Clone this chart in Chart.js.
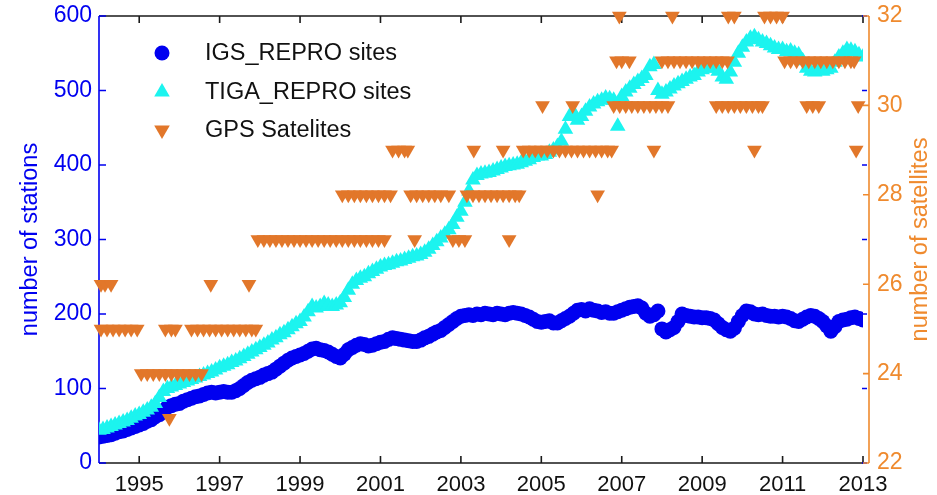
<!DOCTYPE html>
<html>
<head>
<meta charset="utf-8">
<script src="https://cdn.jsdelivr.net/npm/chart.js@4.4.0/dist/chart.umd.min.js"></script>
<style>
  html, body { margin: 0; padding: 0; background: #fff; }
  #wrap { width: 937px; height: 495px; position: relative; }
</style>
</head>
<body>
<div id="wrap"><canvas id="stations"></canvas></div>
<script>
// tick labels
const xTicks = [1995, 1997, 1999, 2001, 2003, 2005, 2007, 2009, 2011, 2013];
const stationTicks = [0, 100, 200, 300, 400, 500, 600];
const satTicks = [22, 24, 26, 28, 30, 32];

// station counts, sampled every 0.1 yr from 1994.0
const sampleStart = 1994.0;
const sampleStep = 0.1;
const igsSites = [
  35, 36, 37, 38, 40, 42, 43, 45, 47, 49,
  51, 53, 56, 58, 62, 65, 70, 75, 77, 79,
  80, 83, 85, 87, 89, 90, 92, 94, 95, 94,
  95, 96, 95, 95, 97, 100, 104, 108, 111, 113,
  115, 118, 120, 122, 126, 130, 134, 138, 141, 143,
  145, 147, 150, 153, 154, 152, 151, 149, 146, 143,
  141, 146, 152, 155, 158, 160, 159, 157, 158, 160,
  162, 163, 166, 168, 167, 166, 165, 164, 163, 163,
  165, 168, 170, 173, 176, 178, 182, 186, 190, 194,
  197, 198, 199, 198, 200, 199, 201, 200, 199, 201,
  200, 199, 201, 202, 201, 200, 198, 196, 193, 190,
  189, 190, 191, 188, 188, 191, 194, 197, 201, 205,
  206, 204, 207, 205, 204, 202, 203, 201, 201, 203,
  205, 207, 209, 210, 211, 208, 201, 197, 199, 204,
  180, 176, 179, 182, 190, 200, 198, 197, 196, 196,
  195, 195, 194, 192, 187, 182, 179, 177, 181, 190,
  198, 204, 203, 200, 199, 200, 198, 197, 197, 196,
  197, 196, 194, 191, 190, 193, 196, 198, 197, 194,
  190, 184, 177, 183, 190, 192, 193, 195, 196, 194,
  192
];
const tigaSites = [
  44, 45, 47, 49, 51, 53, 55, 57, 60, 63,
  65, 68, 71, 75, 80, 88, 96, 100, 102, 104,
  106, 108, 110, 112, 114, 116, 118, 120, 122, 125,
  128, 130, 132, 135, 137, 140, 143, 146, 149, 152,
  155, 158, 161, 165, 168, 172, 175, 179, 183, 187,
  190, 196, 203, 210, 208, 210, 214, 212, 210, 212,
  215, 222, 232, 240, 245, 248, 250, 254, 257, 260,
  263, 265, 266, 268, 270, 271, 273, 275, 277, 278,
  280, 283, 287, 292, 297, 302, 307, 313, 320, 330,
  338, 350, 365, 380, 386, 388, 389, 390, 392, 394,
  396, 398, 399, 400, 401, 403, 405, 407, 410, 412,
  412, 414, 417, 420, 425, 432, 448, 465, 470, 460,
  465, 472, 478, 482, 485, 487, 490, 489, 487, 452,
  492, 498, 503, 508, 512, 516, 520, 532, 535, 500,
  495, 498, 502, 506, 509, 512, 515, 518, 520, 525,
  528, 530, 531, 530, 526, 518, 515, 525, 538, 550,
  558, 565, 570, 572, 568, 565, 563, 560, 557, 555,
  555, 552, 553, 550, 548, 540, 530, 526, 525, 527,
  526, 528, 530, 538, 545, 550, 555, 554, 552, 548,
  545
];

// epochs (decimal year) at which each number of GPS satellites was seen
const sat23 = [1995.75];
const sat24 = [1995.05, 1995.2, 1995.35, 1995.5, 1995.65, 1995.8, 1995.95, 1996.1, 1996.25, 1996.4, 1996.55];
const sat25 = [1994.05, 1994.2, 1994.35, 1994.5, 1994.65, 1994.8, 1994.95, 1995.65, 1995.8, 1995.9,
  1996.3, 1996.45, 1996.6, 1996.75, 1996.9, 1997.05, 1997.2, 1997.35, 1997.5, 1997.65, 1997.8, 1997.9];
const sat26 = [1994.05, 1994.15, 1994.3, 1996.78, 1997.73];
const sat27 = [1997.95, 1998.1, 1998.25, 1998.4, 1998.55, 1998.7, 1998.85, 1999.0, 1999.15, 1999.3,
  1999.45, 1999.6, 1999.75, 1999.9, 2000.05, 2000.2, 2000.35, 2000.5, 2000.65, 2000.8, 2000.95, 2001.1,
  2001.85, 2002.8, 2002.95, 2003.1, 2004.2];
const sat28 = [2000.05, 2000.2, 2000.35, 2000.5, 2000.65, 2000.8, 2000.95, 2001.1, 2001.25,
  2001.75, 2001.9, 2002.05, 2002.2, 2002.35, 2002.5, 2002.7,
  2003.15, 2003.3, 2003.45, 2003.6, 2003.75, 2003.9, 2004.05, 2004.2, 2004.35, 2004.45, 2006.4];
const sat29 = [2001.3, 2001.45, 2001.6, 2001.68, 2003.32, 2004.05,
  2004.55, 2004.7, 2004.85, 2005.0, 2005.15, 2005.3, 2005.45, 2005.6, 2005.75, 2005.9,
  2006.05, 2006.2, 2006.35, 2006.5, 2006.65, 2006.75, 2007.8, 2010.3, 2012.83];
const sat30 = [2005.03, 2005.78, 2006.8, 2006.95, 2007.1, 2007.25, 2007.4, 2007.55, 2007.7, 2007.85, 2008.0, 2008.15,
  2009.35, 2009.5, 2009.65, 2009.8, 2009.95, 2010.1, 2010.25, 2010.4, 2010.5,
  2011.6, 2011.75, 2011.9, 2012.88];
const sat31 = [2006.87, 2007.0, 2007.19,
  2008.0, 2008.15, 2008.3, 2008.45, 2008.6, 2008.75, 2008.9, 2009.05, 2009.2, 2009.35, 2009.5, 2009.63,
  2011.05, 2011.2, 2011.35, 2011.5, 2011.65, 2011.8, 2011.95, 2012.1, 2012.25, 2012.4, 2012.55, 2012.7, 2012.78];
const sat32 = [2006.94, 2008.26, 2009.65, 2009.8, 2010.55, 2010.7, 2010.85, 2011.0];

const BLUE = '#0000f0';
const CYAN = '#1cf4ef';
const ORANGE = '#e2772a';
const ORANGE_AXIS = '#ef8a2e';
const FONT = "'Liberation Sans', Arial, sans-serif";

const toPoints = (vals) => vals.map((v, i) => ({ x: sampleStart + i * sampleStep, y: v }));
const satPoints = [
  [23, sat23], [24, sat24], [25, sat25], [26, sat26], [27, sat27],
  [28, sat28], [29, sat29], [30, sat30], [31, sat31], [32, sat32]
].flatMap(([n, epochs]) => epochs.map((t) => ({ x: t, y: n })));

Chart.defaults.font.family = FONT;

function marker(ctx, style, x, y) {
  ctx.beginPath();
  if (style === 'circle') {
    ctx.arc(x, y, 7.5, 0, Math.PI * 2);
  } else {
    const r = 9, s = style === 'up' ? 1 : -1;
    ctx.moveTo(x, y - s * r);
    ctx.lineTo(x + r * 0.866, y + s * r / 2);
    ctx.lineTo(x - r * 0.866, y + s * r / 2);
    ctx.closePath();
  }
  ctx.fill();
}

function sideTitle(ctx, text, color, x, y) {
  ctx.save();
  ctx.font = '23.5px ' + FONT;
  ctx.textAlign = 'center';
  ctx.textBaseline = 'middle';
  ctx.fillStyle = color;
  ctx.translate(x, y);
  ctx.rotate(-Math.PI / 2);
  ctx.fillText(text, 0, 0);
  ctx.restore();
}

const framePlugin = {
  id: 'frame',
  beforeDatasetsDraw(chart) {
    const { ctx, chartArea: a, scales } = chart;
    const rx = a.right + 6;
    ctx.save();
    ctx.lineWidth = 1.6;

    ctx.strokeStyle = '#1a1a1a';
    ctx.beginPath();
    ctx.moveTo(a.left, a.top); ctx.lineTo(a.right, a.top);
    ctx.moveTo(a.left, a.bottom); ctx.lineTo(a.right, a.bottom);
    xTicks.forEach((v) => {
      const x = scales.x.getPixelForValue(v);
      ctx.moveTo(x, a.bottom); ctx.lineTo(x, a.bottom - 7);
      ctx.moveTo(x, a.top); ctx.lineTo(x, a.top + 7);
    });
    ctx.stroke();

    ctx.strokeStyle = BLUE;
    ctx.beginPath();
    ctx.moveTo(a.left, a.top); ctx.lineTo(a.left, a.bottom);
    stationTicks.forEach((v) => {
      const y = scales.y.getPixelForValue(v);
      ctx.moveTo(a.left, y); ctx.lineTo(a.left + 7, y);
      ctx.moveTo(a.right - 1, y); ctx.lineTo(a.right + 4, y);
    });
    ctx.stroke();

    ctx.strokeStyle = ORANGE_AXIS;
    ctx.beginPath();
    ctx.moveTo(rx, a.top); ctx.lineTo(rx, a.bottom);
    satTicks.forEach((v) => {
      const y = scales.y2.getPixelForValue(v);
      ctx.moveTo(rx, y); ctx.lineTo(rx - 6, y);
    });
    ctx.stroke();
    ctx.restore();
  },
  afterDraw(chart) {
    const { ctx, chartArea: a } = chart;
    const cy = (a.top + a.bottom) / 2;
    sideTitle(ctx, 'number of stations', BLUE, 31, cy);
    sideTitle(ctx, 'number of satellites', ORANGE_AXIS, 921, cy);

    // legend
    const rows = [
      ['circle', BLUE, 'IGS_REPRO sites', 53],
      ['up', CYAN, 'TIGA_REPRO sites', 92],
      ['down', ORANGE, 'GPS Satelites', 130]
    ];
    ctx.save();
    ctx.font = '23.5px ' + FONT;
    ctx.textBaseline = 'middle';
    rows.forEach(([style, color, label, y]) => {
      ctx.fillStyle = color;
      marker(ctx, style, 162, y);
      ctx.fillStyle = '#111';
      ctx.fillText(label, 205, y + 1);
    });
    ctx.restore();
  }
};

const noPad = (s) => { s.paddingTop = 0; s.paddingBottom = 0; };

new Chart(document.getElementById('stations'), {
  type: 'scatter',
  data: {
    datasets: [
      {
        label: 'GPS Satelites', data: satPoints, yAxisID: 'y2', order: 1, clip: false,
        pointStyle: 'triangle', rotation: 180, pointRadius: 8.5, pointHoverRadius: 8.5,
        backgroundColor: ORANGE, borderWidth: 0
      },
      {
        label: 'TIGA_REPRO sites', data: toPoints(tigaSites), yAxisID: 'y', order: 2,
        pointStyle: 'triangle', pointRadius: 9, pointHoverRadius: 9,
        backgroundColor: CYAN, borderWidth: 0
      },
      {
        label: 'IGS_REPRO sites', data: toPoints(igsSites), yAxisID: 'y', order: 3,
        pointStyle: 'circle', pointRadius: 7.5, pointHoverRadius: 7.5,
        backgroundColor: BLUE, borderWidth: 0
      }
    ]
  },
  options: {
    responsive: true,
    maintainAspectRatio: false,
    animation: false,
    layout: { padding: { top: 16, left: 0, right: 0, bottom: 0 } },
    plugins: { legend: { display: false }, tooltip: { enabled: false } },
    scales: {
      x: {
        type: 'linear', position: 'bottom', min: 1994, max: 2013,
        afterBuildTicks: (s) => { s.ticks = xTicks.map((v) => ({ value: v })); },
        afterFit: (s) => { s.height = 32; s.paddingLeft = 0; s.paddingRight = 0; },
        grid: { display: false, drawTicks: false },
        border: { display: false },
        ticks: { color: '#111', font: { size: 22 }, padding: 9, maxRotation: 0, autoSkip: false, callback: (v) => String(v) }
      },
      y: {
        position: 'left', min: 0, max: 600,
        afterBuildTicks: (s) => { s.ticks = stationTicks.map((v) => ({ value: v })); },
        afterFit: (s) => { s.width = 99; noPad(s); },
        grid: { display: false, drawTicks: false },
        border: { display: false },
        ticks: { color: BLUE, font: { size: 23 }, padding: 7 }
      },
      y2: {
        position: 'right', min: 22, max: 32,
        afterBuildTicks: (s) => { s.ticks = satTicks.map((v) => ({ value: v })); },
        afterFit: (s) => { s.width = 74; noPad(s); },
        grid: { display: false, drawTicks: false },
        border: { display: false },
        ticks: { color: ORANGE_AXIS, font: { size: 23 }, padding: 14 }
      }
    }
  },
  plugins: [framePlugin]
});
</script>
</body>
</html>
